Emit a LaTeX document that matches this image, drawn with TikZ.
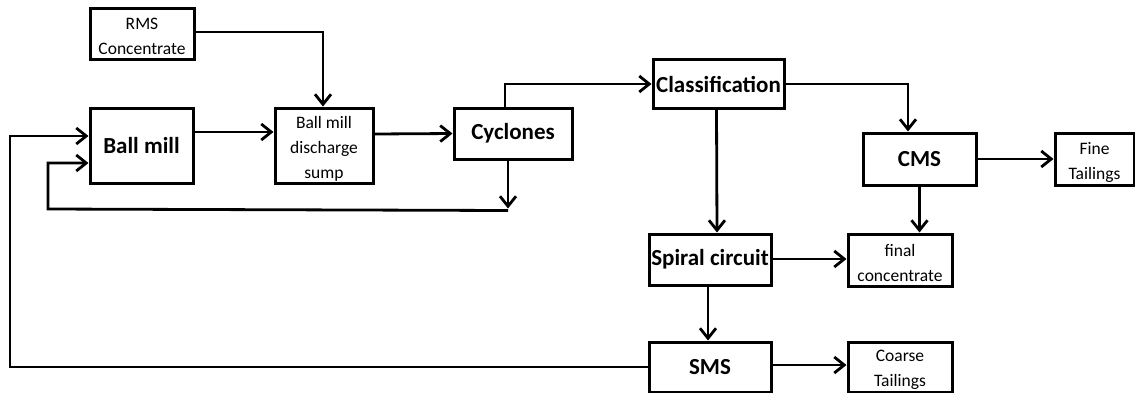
\documentclass[tikz,border=0pt]{standalone}
\usepackage{fontspec}
\setmainfont{Carlito}
\usetikzlibrary{arrows.meta}
\begin{document}
\begin{tikzpicture}[x=1pt,y=-1pt,
  box/.style={draw,line width=3pt,rectangle,inner sep=0pt,align=center},
  bigbox/.style={box,font=\fontsize{23}{26}\selectfont\bfseries},
  smallbox/.style={box},
  lbl/.style={align=center,inner sep=0pt,yshift=-3pt,font=\fontsize{17.5}{25}\selectfont},
  arr/.style={line width=2.8pt,-{Straight Barb[length=10pt,width=16pt,line width=2.8pt]}},
  ln/.style={line width=2.8pt}]
\useasboundingbox (0,0) rectangle (1135,392);
\node[smallbox,minimum width=104pt,minimum height=51pt,label={[lbl]center:RMS\\Concentrate}] (rms) at (142,33.5) {};
\node[bigbox,minimum width=103pt,minimum height=75pt] (ballmill) at (141.5,145.5) {Ball mill};
\node[smallbox,minimum width=98pt,minimum height=75pt,label={[lbl]center:Ball mill\\discharge\\sump}] (sump) at (324,145.5) {};
\node[bigbox,minimum width=118pt,minimum height=51pt] (cyc) at (513,133.5) {Cyclones};
\node[bigbox,minimum width=131pt,minimum height=49pt] (class) at (718.5,84) {Classification};
\node[bigbox,minimum width=113pt,minimum height=52pt] (cms) at (919.5,159) {CMS};
\node[smallbox,minimum width=79pt,minimum height=52pt,label={[lbl]center:Fine\\Tailings}] (fine) at (1094.5,159) {};
\node[bigbox,minimum width=122pt,minimum height=51pt] (spiral) at (710,259.5) {Spiral circuit};
\node[smallbox,minimum width=104pt,minimum height=52pt,label={[lbl]center:final\\concentrate}] (final) at (900,260) {};
\node[bigbox,minimum width=122pt,minimum height=50pt] (sms) at (710,367) {SMS};
\node[smallbox,minimum width=104pt,minimum height=50pt,label={[lbl]center:Coarse\\Tailings}] (coarse) at (900,367) {};
% connectors
\draw[arr] ([yshift=1.5pt]rms.east) -| ([xshift=-1pt]sump.north);
\draw[arr] ([yshift=13.5pt]ballmill.east) -- ([yshift=13.5pt]sump.west);
\draw[arr] ([yshift=11.5pt]sump.east) -- (cyc.west);
\draw[arr] ([xshift=-8pt]cyc.north) |- (class.west);
\coordinate (cycdown) at ([xshift=-5pt,yshift=-48pt]cyc.south);
\draw[arr] ([xshift=-5pt]cyc.south) -- (cycdown);
\coordinate (fbstart) at ([yshift=-2pt]cycdown);
\coordinate (fbcorner) at (48,209);
\draw[arr] (fbstart) -- (fbcorner) |- ([yshift=-17.5pt]ballmill.west);
\draw[arr] (class.east) -| ([xshift=-11.5pt]cms.north);
\draw[arr] (cms.east) -- (fine.west);
\draw[arr] (cms.south) -- (cms.south |- final.north);
\draw[arr] ([xshift=-2pt]class.south) -- ([xshift=7pt]spiral.north);
\draw[arr] ([yshift=0.5pt]spiral.east) -- ([yshift=1pt]final.west);
\draw[arr] ([xshift=-2pt]spiral.south) -- ([xshift=-2pt]sms.north);
\draw[arr] ([yshift=2pt]sms.east) -- ([yshift=2pt]coarse.west);
\coordinate (loopcorner) at (10,367);
\draw[arr] (sms.west) -- (loopcorner) |- ([yshift=9.5pt]ballmill.west);
\end{tikzpicture}
\end{document}
